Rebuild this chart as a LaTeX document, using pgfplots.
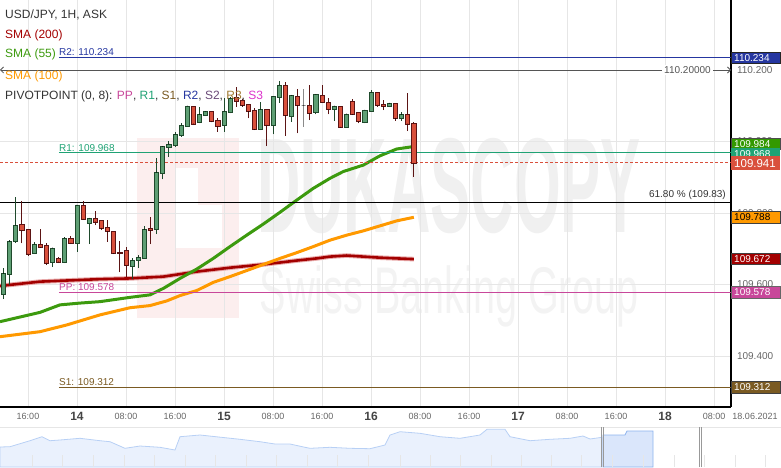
\documentclass[border=0pt]{standalone}
\usepackage{pgfplots}
\pgfplotsset{compat=1.18}
\usepackage{pgfplotstable}
\usepackage{fontspec}
\setmainfont{Liberation Sans}
\usetikzlibrary{arrows.meta}

\definecolor{gridc}{HTML}{E6E6E6}
\definecolor{txtc}{HTML}{333333}
\definecolor{tickc}{HTML}{666666}
\definecolor{dayc}{HTML}{444444}
\definecolor{upfill}{HTML}{5E9F74}
\definecolor{updraw}{HTML}{1F4A2C}
\definecolor{dnfill}{HTML}{D9503C}
\definecolor{dndraw}{HTML}{5C1414}
\definecolor{dojic}{HTML}{8A8A8A}
\definecolor{sma200}{HTML}{A30000}
\definecolor{sma200h}{HTML}{E8AAAA}
\definecolor{sma55}{HTML}{3C9A0E}
\definecolor{sma100}{HTML}{FF9900}
\definecolor{r2c}{HTML}{2536A0}
\definecolor{r1c}{HTML}{1FA274}
\definecolor{ppc}{HTML}{C8479A}
\definecolor{s1c}{HTML}{7A5A22}
\definecolor{s2c}{HTML}{6A4A78}
\definecolor{r3c}{HTML}{A07A30}
\definecolor{s3c}{HTML}{DD33CC}
\definecolor{curc}{HTML}{D9503C}
\definecolor{levc}{HTML}{555555}
\definecolor{navfill}{HTML}{EAF1FD}
\definecolor{navline}{HTML}{B8D0F5}
\definecolor{navsel}{HTML}{DAE6FB}
\definecolor{navsell}{HTML}{8DB3EE}
\definecolor{wmgray}{HTML}{F0F0F0}
\definecolor{wmgray2}{HTML}{F3F3F3}
\definecolor{wmpink}{HTML}{FCEEEE}
\definecolor{smagreenbox}{HTML}{339900}

\pgfplotstableread{
h O H L C
-13 109.492 109.557 109.473 109.548
-12 109.571 109.645 109.559 109.631
-11 109.629 109.725 109.599 109.720
-10 109.720 109.846 109.717 109.766
-7 109.688 109.720 109.685 109.713
-4 109.661 109.702 109.649 109.702
-2 109.663 109.734 109.660 109.730
0 109.716 109.822 109.692 109.822
2 109.771 109.785 109.713 109.785
9 109.650 109.674 109.615 109.668
10 109.666 109.683 109.646 109.677
11 109.673 109.764 109.673 109.754
13 109.754 109.953 109.741 109.914
14 109.911 109.987 109.894 109.986
15 109.984 110.002 109.958 109.993
16 109.988 110.027 109.986 110.020
17 110.016 110.051 110.013 110.046
18 110.043 110.099 110.041 110.099
20 110.054 110.096 110.051 110.076
21 110.074 110.083 110.071 110.083
24 110.046 110.121 110.027 110.083
25 110.082 110.125 110.079 110.121
30 110.034 110.111 110.032 110.090
32 110.046 110.125 110.020 110.125
33 110.124 110.169 110.109 110.158
35 110.069 110.129 110.055 110.129
39 110.081 110.132 110.076 110.132
42 110.090 110.099 110.058 110.099
44 110.040 110.077 110.040 110.077
47 110.054 110.088 110.051 110.088
48 110.083 110.144 110.083 110.138
51 110.097 110.107 110.096 110.107
53 110.065 110.083 110.058 110.076
}\upcandles

\pgfplotstableread{
h O H L C
-9 109.769 109.834 109.715 109.750
-8 109.755 109.755 109.680 109.685
-6 109.713 109.755 109.704 109.704
-5 109.710 109.717 109.654 109.660
-3 109.674 109.678 109.660 109.663
-1 109.730 109.736 109.713 109.716
1 109.820 109.834 109.782 109.783
3 109.785 109.806 109.766 109.775
4 109.778 109.780 109.752 109.757
5 109.760 109.780 109.720 109.748
6 109.748 109.748 109.685 109.687
7 109.691 109.722 109.634 109.688
8 109.694 109.706 109.620 109.654
12 109.757 109.790 109.713 109.752
19 110.099 110.099 110.046 110.049
22 110.083 110.083 110.054 110.055
23 110.060 110.065 110.027 110.041
26 110.124 110.153 110.097 110.113
27 110.114 110.118 110.097 110.100
28 110.105 110.105 110.065 110.083
29 110.088 110.093 110.032 110.034
31 110.090 110.090 109.987 110.046
34 110.158 110.166 110.016 110.072
36 110.127 110.146 110.023 110.100
38 110.102 110.158 110.060 110.079
40 110.130 110.158 110.110 110.110
41 110.110 110.121 110.076 110.090
43 110.099 110.099 110.040 110.040
45 110.113 110.118 110.074 110.076
46 110.082 110.083 110.051 110.055
49 110.138 110.138 110.097 110.102
50 110.104 110.116 110.088 110.097
52 110.107 110.107 110.058 110.065
54 110.076 110.136 110.029 110.049
55 110.051 110.055 109.902 109.939
}\downcandles

\pgfplotstableread{
h O H L C
37 110.101 110.146 110.041 110.101
}\dojicandles

\pgfplotsset{
  candles/.style n args={2}{
    only marks, scatter, mark=*, mark size=0.1pt,
    mark options={draw=none,fill=none},
    visualization depends on={357.5*(\thisrow{O}-\thisrow{C}) \as \cbody},
    visualization depends on={357.5*(\thisrow{H}-\thisrow{C}) \as \chigh},
    visualization depends on={357.5*(\thisrow{L}-\thisrow{C}) \as \clow},
    scatter/@pre marker code/.code={%
      \draw[#2, line width=1pt] (0pt,\clow pt) -- (0pt,\chigh pt);
      \filldraw[fill=#1, draw=#2, line width=0.8pt] (-2.1pt,0pt) rectangle (2.1pt,\cbody pt);
    },
    scatter/@post marker code/.code={},
  },
}

\newcommand{\dayl}[1]{{\color{dayc}\fontsize{12}{12}\selectfont\bfseries #1}}
\tikzset{pbox/.style={anchor=west, inner xsep=2.8pt, inner ysep=0pt, text width=43pt,
  minimum height=11.5pt, align=left, font=\fontsize{10}{10}\selectfont, line width=0.8pt}}

\begin{document}
\begin{tikzpicture}
\useasboundingbox (0pt,0pt) rectangle (781pt,467pt);

% watermark
\fill[wmpink] (136.7pt,149.3pt) rectangle (239.3pt,328.7pt);
\fill[white] (175pt,218.7pt) rectangle (198.3pt,298.7pt);
\fill[white] (198.3pt,218.7pt) rectangle (221.7pt,262pt);
\node[text=wmgray, font=\fontsize{135}{135}\selectfont\bfseries, xscale=0.445, inner sep=0pt] at (449pt,280.5pt) {DUKASCOPY};
\node[text=wmgray2, font=\fontsize{66}{66}\selectfont, xscale=0.6, inner sep=0pt, anchor=base] at (449pt,154pt) {Swiss Banking Group};

\begin{axis}[
  at={(0pt,60pt)}, anchor=south west,
  width=731pt, height=407pt, scale only axis,
  xmin=-12.5714, xmax=106.7755,
  ymin=109.2573, ymax=110.3958,
  axis x line*=bottom, axis y line*=right,
  axis line style={black, line width=1.1pt},
  xtick={-8,0,8,16,24,32,40,48,56,64,72,80,88,96,104},
  xticklabels={16:00,\dayl{14},08:00,16:00,\dayl{15},08:00,16:00,\dayl{16},08:00,16:00,\dayl{17},08:00,16:00,\dayl{18},08:00},
  ytick={109.4,109.6,109.8,110.0,110.2,110.4},
  scaled y ticks=false,
  /pgf/number format/assume math mode=true,
  yticklabel={\pgfmathprintnumber[fixed,fixed zerofill,precision=3]{\tick}},
  yticklabel style={font=\fontsize{10}{10}\selectfont, text=tickc, anchor=west, xshift=2.5pt},
  xticklabel style={font=\fontsize{9}{9}\selectfont, text=tickc, anchor=center, yshift=-9.5pt},
  grid=major, major grid style={color=gridc, line width=0.8pt},
  major tick length=0pt,
  clip=false,
]
% moving averages
\addplot[sma200h, line width=4.6pt, line join=round] coordinates {(-12.571,109.596) (-6.041,109.608) (3.755,109.615) (8.653,109.617) (14.090,109.622) (19.543,109.636) (24.980,109.647) (30.416,109.656) (35.869,109.667) (39.135,109.673) (41.306,109.678) (44.033,109.681) (46.743,109.678) (49.469,109.675) (52.196,109.673) (55,109.671)};
\addplot[sma200, line width=2.6pt, line join=round] coordinates {(-12.571,109.596) (-6.041,109.608) (3.755,109.615) (8.653,109.617) (14.090,109.622) (19.543,109.636) (24.980,109.647) (30.416,109.656) (35.869,109.667) (39.135,109.673) (41.306,109.678) (44.033,109.681) (46.743,109.678) (49.469,109.675) (52.196,109.673) (55,109.671)};
\addplot[sma100, line width=3pt, line join=round] coordinates {(-12.571,109.454) (-6.041,109.468) (-1.633,109.487) (3.755,109.515) (8.653,109.535) (11.918,109.541) (14.645,109.554) (16.816,109.569) (19.543,109.583) (22.253,109.606) (24.980,109.622) (27.706,109.639) (30.416,109.656) (33.143,109.673) (35.869,109.689) (38.580,109.706) (41.306,109.724) (44.033,109.738) (46.743,109.750) (49.469,109.764) (52.196,109.778) (55,109.788)};
\addplot[sma55, line width=3pt, line join=round] coordinates {(-12.571,109.496) (-9.306,109.509) (-6.041,109.522) (-2.776,109.543) (0.490,109.548) (3.755,109.552) (8.653,109.564) (11.918,109.571) (14.090,109.589) (16.816,109.617) (19.543,109.643) (22.253,109.673) (24.980,109.706) (27.706,109.738) (30.416,109.769) (33.143,109.802) (35.869,109.836) (38.580,109.869) (41.306,109.897) (43.478,109.916) (46.743,109.934) (49.469,109.960) (52.196,109.979) (55,109.986)};

% levels
\addplot[r2c, line width=0.9pt] coordinates {(-2.94,110.234) (106.7755,110.234)};
\addplot[levc, line width=0.8pt, {Straight Barb[length=3pt,width=6pt]}-{Straight Barb[length=3pt,width=6pt]}] coordinates {(-12.5714,110.2) (106.7755,110.2)};
\addplot[r1c, line width=0.9pt] coordinates {(-2.94,109.968) (106.7755,109.968)};
\addplot[curc, line width=0.8pt, dash pattern=on 3pt off 2pt] coordinates {(-12.5714,109.941) (106.7755,109.941)};
\addplot[black, line width=0.9pt] coordinates {(-12.5714,109.83) (106.7755,109.83)};
\addplot[ppc, line width=0.9pt] coordinates {(-2.94,109.578) (106.7755,109.578)};
\addplot[s1c, line width=0.9pt] coordinates {(-2.94,109.312) (106.7755,109.312)};

% candles
\addplot[candles={upfill}{updraw}] table[x=h,y=C] {\upcandles};
\addplot[candles={dnfill}{dndraw}] table[x=h,y=C] {\downcandles};
\addplot[candles={dojic}{dojic}] table[x=h,y=C] {\dojicandles};

% level labels
\node[anchor=south west, inner sep=0pt, yshift=1.6pt, text=r2c, font=\fontsize{10}{10}\selectfont] at (axis cs:-2.94,110.234) {R2: 110.234};
\node[anchor=south west, inner sep=0pt, yshift=1.6pt, text=r1c, font=\fontsize{10}{10}\selectfont] at (axis cs:-2.94,109.968) {R1: 109.968};
\node[anchor=south west, inner sep=0pt, yshift=1.6pt, text=ppc, font=\fontsize{10}{10}\selectfont] at (axis cs:-2.94,109.578) {PP: 109.578};
\node[anchor=south west, inner sep=0pt, yshift=1.6pt, text=s1c, font=\fontsize{10}{10}\selectfont] at (axis cs:-2.94,109.312) {S1: 109.312};
\node[anchor=south east, inner sep=0pt, yshift=2.5pt, text=txtc, font=\fontsize{10}{10}\selectfont] at (axis cs:105.96,109.83) {61.80 \% (109.83)};
\node[fill=white, inner xsep=2pt, inner ysep=1pt, text=levc, font=\fontsize{10}{10}\selectfont] at (axis cs:99.67,110.2) {110.20000};

% price boxes
\node[pbox, fill=r2c, draw=black!85, text=white] at (axis cs:106.7755,110.234) {110.234};
\node[pbox, fill=smagreenbox, draw=black!70, text=white] at (axis cs:106.7755,109.993) {109.984};
\node[pbox, fill=r1c, text=white] at (axis cs:106.7755,109.966) {109.968};
\node[pbox, fill=curc, text=white, minimum height=14pt, font=\fontsize{11.5}{11.5}\selectfont] at (axis cs:106.7755,109.939) {109.941};
\node[pbox, fill=sma100, draw=black!75, text=black] at (axis cs:106.7755,109.788) {109.788};
\node[pbox, fill=sma200, draw=black!75, text=white] at (axis cs:106.7755,109.672) {109.672};
\node[pbox, fill=ppc, draw=black!60, text=white] at (axis cs:106.7755,109.578) {109.578};
\node[pbox, fill=s1c, draw=black!75, text=white] at (axis cs:106.7755,109.312) {109.312};
\end{axis}

\node[text=tickc, font=\fontsize{9}{9}\selectfont] at (755pt,50.5pt) {18.06.2021};

% navigator
\begin{axis}[
  at={(0pt,0pt)}, anchor=south west,
  width=781pt, height=40pt, scale only axis,
  xmin=0, xmax=781, ymin=0, ymax=40,
  hide axis, clip=false,
]
\addplot[draw=navline, fill=navfill, line width=0.8pt] coordinates {(0,20) (10,20.3) (30,26.3) (42,30.3) (50,26.3) (60,27) (80,28.7) (100,26.3) (110,25.3) (125,18.7) (140,21) (160,19.7) (175,17) (180,30.3) (200,32) (240,27.7) (260,25.3) (275,23) (290,23) (305,19.7) (310,18.7) (330,19.7) (350,18.7) (370,18.3) (385,22) (390,32) (400,35.3) (420,33.7) (430,32) (440,30.3) (460,28.7) (480,32) (487,37.7) (505,37.7) (510,30.3) (530,26.3) (550,27.7) (570,28.7) (583,31) (590,28) (602,29.7)} \closedcycle;
\addplot[draw=navsell, fill=navsel, line width=0.8pt] coordinates {(603,32) (625,32) (627,36) (653,36)} \closedcycle;
\addplot[ycomb, draw=gridc, line width=0.8pt] coordinates {(32.3,12) (62.7,12) (93.3,12) (124,12) (154.3,12) (185,12) (215.7,12) (246.7,12) (276.7,12) (307.3,12) (337.7,12) (368.3,12) (400,12) (430,12) (460.7,12) (491.7,12) (521.7,12) (551.7,12) (581.7,12) (612.7,12) (643.3,12) (674,12) (704.3,12) (735,12) (765.7,12)};
\addplot[gridc, line width=0.8pt] coordinates {(0,40) (781,40)};
\addplot[black!40, line width=0.7pt] coordinates {(601.2,0) (601.2,40)};
\addplot[black!40, line width=0.7pt] coordinates {(603,0) (603,40)};
\addplot[black!40, line width=0.7pt] coordinates {(699.6,0) (699.6,40)};
\addplot[black!40, line width=0.7pt] coordinates {(701.4,0) (701.4,40)};
\end{axis}

% legend texts
\begin{scope}[every node/.style={anchor=west, inner sep=0pt, font=\fontsize{12}{12}\selectfont}]
\node[text=txtc] at (5pt,452pt) {USD/JPY, 1H, ASK};
\node[text=sma200] at (5pt,432pt) {SMA (200)};
\node[text=sma55] at (5pt,412.5pt) {SMA (55)};
\node[text=sma100] at (5pt,391pt) {SMA (100)};
\node at (5pt,371pt) {\color{txtc}PIVOTPOINT (0, 8): \color{ppc}PP\color{txtc}, \color{r1c}R1\color{txtc}, \color{s1c}S1\color{txtc}, \color{r2c}R2\color{txtc}, \color{s2c}S2\color{txtc}, \color{r3c}R3\color{txtc}, \color{s3c}S3};
\end{scope}
\end{tikzpicture}
\end{document}
